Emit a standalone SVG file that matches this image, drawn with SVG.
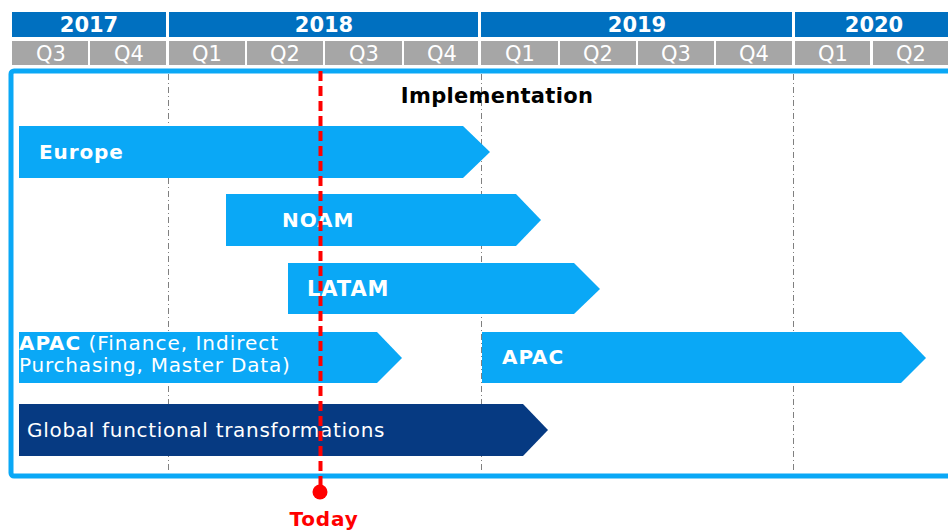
<svg xmlns="http://www.w3.org/2000/svg" width="948" height="532" viewBox="0 0 948 532">
<style>
.yr{fill:#0070C0}
.qt{fill:#A6A6A6}
.yt{font-family:"DejaVu Sans",Verdana,sans-serif;font-weight:bold;font-size:21px;fill:#fff;text-anchor:middle}
.qtx{font-family:"DejaVu Sans",Verdana,sans-serif;font-size:21px;fill:#fff;text-anchor:middle}
.bar{fill:#0AA8F6}
.dark{fill:#063A82}
.lb{font-family:"DejaVu Sans",Verdana,sans-serif;font-weight:bold;font-size:20px;fill:#fff;letter-spacing:0.9px}
.lr{font-family:"DejaVu Sans",Verdana,sans-serif;font-size:20px;fill:#fff;letter-spacing:0.9px}
.grid{stroke:#808080;stroke-width:1;stroke-dasharray:6 3 1 3;fill:none}
</style>
<rect width="948" height="532" fill="#fff"/>
<g id="header">
<rect class="yr" x="12" y="12" width="154" height="25"/>
<rect class="yr" x="169" y="12" width="309" height="25"/>
<rect class="yr" x="481" y="12" width="311" height="25"/>
<rect class="yr" x="795" y="12" width="160" height="25"/>
<text class="yt" x="89" y="32">2017</text>
<text class="yt" x="324" y="32">2018</text>
<text class="yt" x="637" y="32">2019</text>
<text class="yt" x="874" y="32">2020</text>
<rect class="qt" x="12" y="41" width="76" height="24"/>
<rect class="qt" x="90" y="41" width="76" height="24"/>
<rect class="qt" x="169" y="41" width="76" height="24"/>
<rect class="qt" x="247" y="41" width="76" height="24"/>
<rect class="qt" x="325" y="41" width="77" height="24"/>
<rect class="qt" x="404" y="41" width="74" height="24"/>
<rect class="qt" x="481" y="41" width="77" height="24"/>
<rect class="qt" x="560" y="41" width="76" height="24"/>
<rect class="qt" x="638" y="41" width="76" height="24"/>
<rect class="qt" x="716" y="41" width="76" height="24"/>
<rect class="qt" x="795" y="41" width="75" height="24"/>
<rect class="qt" x="873" y="41" width="80" height="24"/>
<text class="qtx" x="51" y="61">Q3</text>
<text class="qtx" x="129" y="61">Q4</text>
<text class="qtx" x="207" y="61">Q1</text>
<text class="qtx" x="285" y="61">Q2</text>
<text class="qtx" x="364" y="61">Q3</text>
<text class="qtx" x="442" y="61">Q4</text>
<text class="qtx" x="520" y="61">Q1</text>
<text class="qtx" x="598" y="61">Q2</text>
<text class="qtx" x="676" y="61">Q3</text>
<text class="qtx" x="754" y="61">Q4</text>
<text class="qtx" x="833" y="61">Q1</text>
<text class="qtx" x="911" y="61">Q2</text>
</g>
<g id="frame">
<rect x="11" y="71" width="950" height="405" rx="3" fill="none" stroke="#0AA8F6" stroke-width="5"/>
<line class="grid" x1="168.5" y1="74" x2="168.5" y2="473"/>
<line class="grid" x1="481.5" y1="74" x2="481.5" y2="473"/>
<line class="grid" x1="793.5" y1="74" x2="793.5" y2="473"/>
<text x="497" y="103" font-family="DejaVu Sans, Verdana, sans-serif" font-weight="bold" font-size="21" letter-spacing="0.3" fill="#000" text-anchor="middle">Implementation</text>
</g>
<g id="europe">
<polygon class="bar" points="19,126 463,126 490,152 463,178 19,178"/>
<text class="lb" x="39" y="159">Europe</text>
</g>
<g id="noam">
<polygon class="bar" points="226,194 516,194 541,220 516,246 226,246"/>
<text class="lb" x="282" y="227">NOAM</text>
</g>
<g id="latam">
<polygon class="bar" points="288,263 574,263 600,289 574,314 288,314"/>
<text class="lb" x="307" y="296" style="font-size:21px">LATAM</text>
</g>
<g id="apac1">
<polygon class="bar" points="19,332 377,332 402,358 377,383 19,383"/>
<text x="19" y="350"><tspan class="lb">APAC</tspan><tspan class="lr" style="letter-spacing:1px"> (Finance, Indirect</tspan></text>
<text class="lr" x="19" y="372" style="letter-spacing:0.8px">Purchasing, Master Data)</text>
</g>
<g id="apac2">
<polygon class="bar" points="482,332 901,332 926,358 901,383 482,383"/>
<text class="lb" x="502" y="364">APAC</text>
</g>
<g id="global">
<polygon class="dark" points="19,404 523,404 548,430 523,456 19,456"/>
<text class="lr" x="27" y="437" style="letter-spacing:0.7px">Global functional transformations</text>
</g>
<g id="connectors">
<line x1="320.5" y1="71" x2="320.5" y2="488" stroke="#FF0000" stroke-width="4" stroke-dasharray="10 5"/>
<circle cx="320" cy="492" r="7.5" fill="#FF0000"/>
</g>
<g id="today">
<text x="324" y="526" font-family="DejaVu Sans, Verdana, sans-serif" font-weight="bold" font-size="20" letter-spacing="0.8" fill="#FF0000" text-anchor="middle">Today</text>
</g>
</svg>
